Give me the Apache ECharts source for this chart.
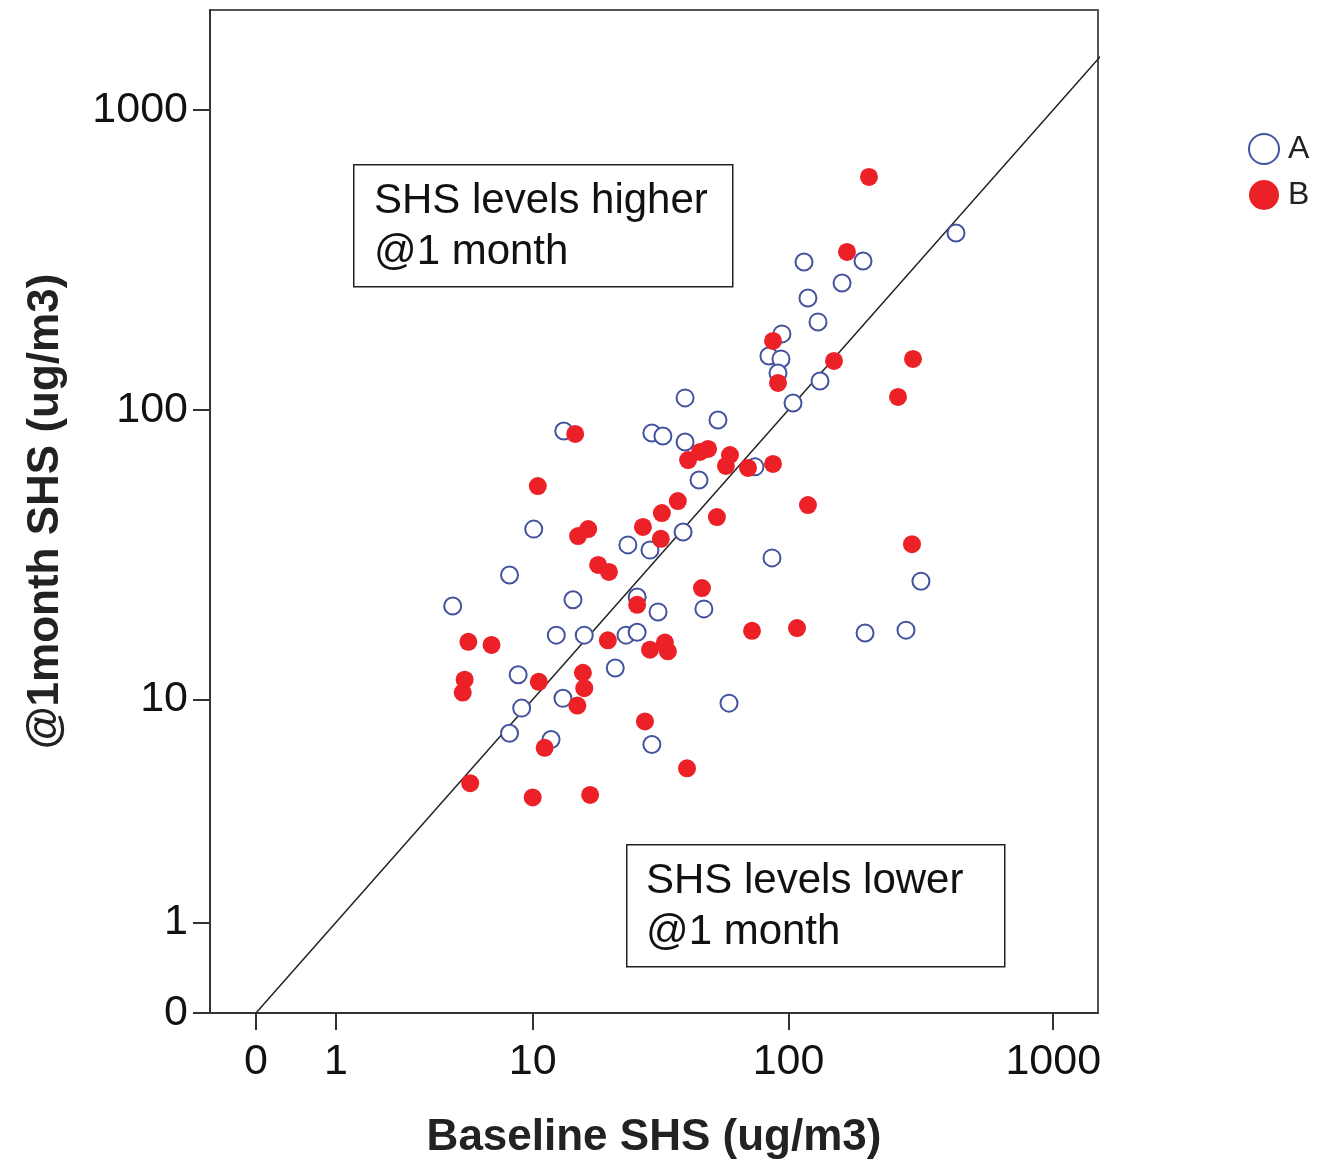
<!DOCTYPE html>
<html>
<head>
<meta charset="utf-8">
<script src="https://cdn.jsdelivr.net/npm/echarts@6/dist/echarts.min.js"></script>
<style>
  html, body { margin: 0; padding: 0; background: #fff; }
  #chart { width: 1317px; height: 1168px; }
</style>
</head>
<body>
<div id="chart"></div>
<script>
// SHS readings (ug/m3)
const groupABaseline = [4.5, 8.0, 10.1, 8.7, 9.0, 8.0, 11.9, 12.5, 14.6, 13.3, 16.2, 13.4, 21.5, 23.7, 26.2, 24.1,
    26.2, 29.4, 31.6, 29.9, 29.9, 33.0, 40.2, 40.2, 39.5, 45.5, 47.5, 53.8, 59.3, 74.5, 86.5, 84.2, 94.4, 93.6,
    91.2, 104.0, 114.5, 118.5, 129.4, 131.7, 159.6, 191.6, 195.0, 278.5, 317.2, 430.1];
const groupAMonth1 = [21.5, 27.5, 39.5, 12.3, 9.3, 7.5, 7.1, 17.0, 22.6, 10.1, 17.0, 84.8, 13.0, 17.0, 17.4, 34.9,
    23.1, 33.5, 20.5, 6.8, 83.5, 81.6, 109.5, 77.9, 38.6, 58.0, 21.0, 92.3, 9.7, 64.2, 31.5, 151.3, 179.3, 147.9,
    132.7, 105.3, 311.6, 236.4, 196.6, 124.8, 265.2, 314.0, 17.3, 17.7, 26.2, 389.3];

const groupBBaseline = [5.3, 5.1, 5.0, 5.4, 6.7, 10.0, 10.5, 10.6, 11.2, 15.2, 16.0, 16.2, 17.1, 14.9, 15.3, 16.8,
    18.4, 20.3, 20.1, 26.2, 27.6, 28.1, 29.4, 32.7, 32.4, 33.6, 34.5, 37.7, 40.9, 41.3, 45.9, 49.3, 46.7, 53.3,
    57.7, 59.8, 70.1, 72.6, 87.3, 87.3, 91.2, 107.7, 118.5, 148.8, 166.6, 201.8, 259.8, 293.4, 296.0];
const groupBMonth1 = [16.1, 11.8, 10.6, 4.8, 15.7, 4.2, 55.3, 11.6, 6.6, 9.5, 12.5, 11.0, 4.3, 82.9, 37.4, 39.5,
    29.8, 28.2, 16.3, 21.7, 40.2, 8.3, 15.1, 44.8, 36.6, 16.0, 14.9, 49.2, 5.5, 67.7, 72.1, 73.8, 24.8, 43.4,
    64.7, 70.4, 63.7, 17.6, 65.7, 169.9, 122.9, 18.0, 47.7, 145.6, 336.5, 598.1, 110.3, 35.1, 147.9];

// line of equal levels (baseline == 1 month), ug/m3
const equalLine = [0, 2000];

const tickValues = [0, 1, 10, 100, 1000];
const tickLabels = ['0', '1', '10', '100', '1000'];

// axes are drawn on log10(value + 1)
const toLog = v => Math.log10(v + 1);
const tickPos = tickValues.map(toLog);

function pairUp(xs, ys) {
    return xs.map((x, i) => [toLog(x), toLog(ys[i])]);
}

function tickFormatter(value) {
    let best = 0;
    tickPos.forEach((p, i) => {
        if (Math.abs(p - value) < Math.abs(tickPos[best] - value)) best = i;
    });
    return tickLabels[best];
}

const axisColor = '#333';
const blue = '#45529e';
const red = '#ec2128';
const fontFamily = '"Liberation Sans", Arial, sans-serif';

const chart = echarts.init(document.getElementById('chart'));

chart.setOption({
    animation: false,
    backgroundColor: '#fff',
    grid: {
        left: 210,
        right: 219,
        top: 10,
        bottom: 155,
        containLabel: false,
        outerBoundsMode: 'none',
        show: true,
        borderColor: '#555',
        borderWidth: 2
    },
    xAxis: {
        type: 'value',
        min: -0.173,
        max: 3.169,
        name: 'Baseline SHS (ug/m3)',
        nameLocation: 'middle',
        nameGap: 103,
        nameTextStyle: { fontFamily, fontSize: 44, fontWeight: 'bold', color: '#222' },
        axisLine: { onZero: false, lineStyle: { color: axisColor, width: 2 } },
        axisTick: { customValues: tickPos, length: 17, lineStyle: { color: axisColor, width: 2 } },
        axisLabel: { customValues: tickPos, formatter: tickFormatter, margin: 28,
            fontFamily, fontSize: 43, color: '#111' },
        splitLine: { show: false }
    },
    yAxis: {
        type: 'value',
        min: 0,
        max: 3.332,
        name: '@1month SHS (ug/m3)',
        nameLocation: 'middle',
        nameGap: 142,
        nameTextStyle: { fontFamily, fontSize: 44, fontWeight: 'bold', color: '#222' },
        axisLine: { onZero: false, lineStyle: { color: axisColor, width: 2 } },
        axisTick: { customValues: tickPos, length: 17, lineStyle: { color: axisColor, width: 2 } },
        axisLabel: { customValues: tickPos, formatter: tickFormatter, margin: 22,
            fontFamily, fontSize: 43, color: '#111' },
        splitLine: { show: false }
    },
    legend: {
        data: [
            { name: 'A', icon: 'circle', itemStyle: { color: '#fff', borderColor: blue, borderWidth: 2 } },
            { name: 'B', icon: 'circle', itemStyle: { color: red, borderWidth: 0 } }
        ],
        orient: 'vertical',
        left: 1248,
        top: 133,
        padding: 0,
        itemWidth: 30,
        itemHeight: 30,
        itemGap: 14,
        textStyle: { fontFamily, fontSize: 32, color: '#222', padding: [0, 0, 0, 4] }
    },
    graphic: [
        {
            type: 'rect', left: 353, top: 164, z: 10,
            shape: { width: 379, height: 122 },
            style: { fill: '#fff', stroke: '#222', lineWidth: 1.5 }
        },
        {
            type: 'text', left: 374, top: 176, z: 11,
            style: { text: 'SHS levels higher\n@1 month', font: '42px ' + fontFamily, lineHeight: 51, fill: '#111' }
        },
        {
            type: 'rect', left: 626, top: 844, z: 10,
            shape: { width: 378, height: 122 },
            style: { fill: '#fff', stroke: '#222', lineWidth: 1.5 }
        },
        {
            type: 'text', left: 646, top: 856, z: 11,
            style: { text: 'SHS levels lower\n@1 month', font: '42px ' + fontFamily, lineHeight: 51, fill: '#111' }
        }
    ],
    series: [
        {
            name: 'equal',
            type: 'line',
            data: equalLine.map(v => [toLog(v), toLog(v)]),
            symbol: 'none',
            silent: true,
            clip: true,
            lineStyle: { color: '#222', width: 1.5 },
            z: 1
        },
        {
            name: 'A',
            type: 'scatter',
            data: pairUp(groupABaseline, groupAMonth1),
            symbol: 'circle',
            symbolSize: 17,
            itemStyle: { color: '#fff', borderColor: blue, borderWidth: 2, opacity: 1 },
            z: 2
        },
        {
            name: 'B',
            type: 'scatter',
            data: pairUp(groupBBaseline, groupBMonth1),
            symbol: 'circle',
            symbolSize: 18,
            itemStyle: { color: red, opacity: 1 },
            z: 3
        }
    ]
});

window.addEventListener('resize', () => {
    chart.resize();
});
</script>
</body>
</html>
